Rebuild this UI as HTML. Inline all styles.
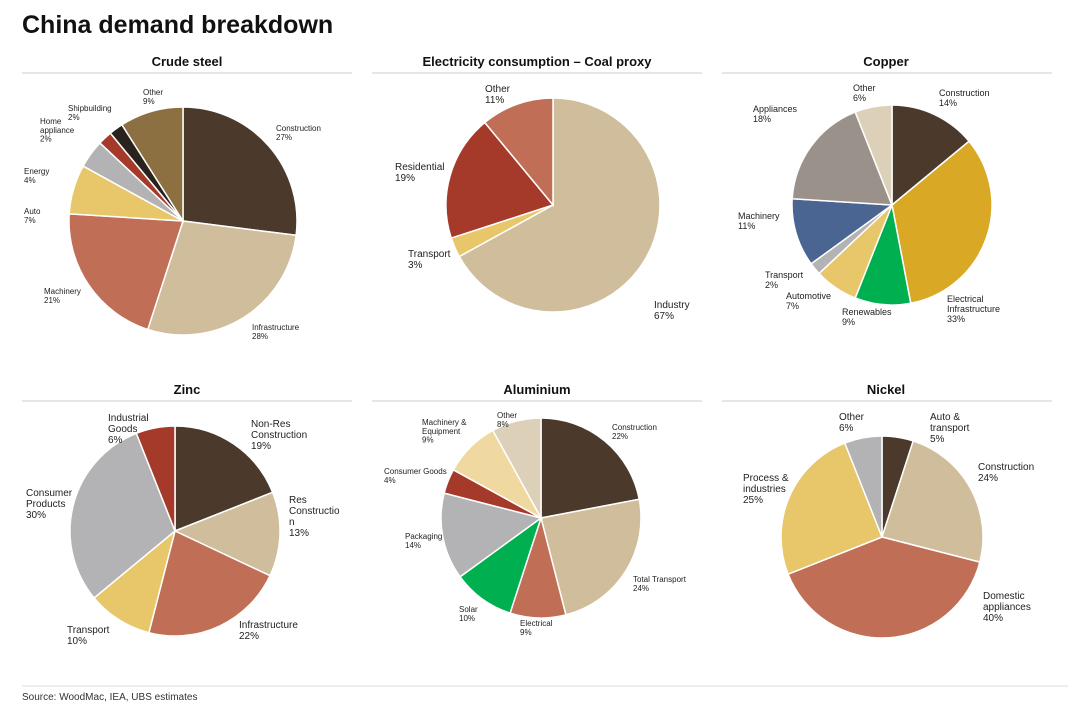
<!DOCTYPE html>
<html><head><meta charset="utf-8">
<style>
body{margin:0;background:#fff;width:1080px;height:711px;overflow:hidden;font-family:"Liberation Sans",sans-serif}
svg{display:block}
</style></head>
<body>
<svg id="chart" width="1080" height="711" viewBox="0 0 1080 711">
<text x="22" y="33" font-size="25" font-weight="bold" fill="#111">China demand breakdown</text>
<line x1="22" y1="686" x2="1068" y2="686" stroke="#ddd"/>
<text x="22" y="700" font-size="10" fill="#333">Source: WoodMac, IEA, UBS estimates</text>
</svg>
<script>
// Crude steel
const steelCats=["Construction","Infrastructure","Machinery","Auto","Energy","Home appliance","Shipbuilding","Other"];
const steelVals=[27,28,21,7,4,2,2,9];
// Electricity
const elecCats=["Industry","Transport","Residential","Other"];
const elecVals=[67,3,19,11];
// Copper
const copperCats=["Construction","Electrical Infrastructure","Renewables","Automotive","Transport","Machinery","Appliances","Other"];
const copperVals=[14,33,9,7,2,11,18,6];
// Zinc
const zincCats=["Non-Res Construction","Res Constructio n","Infrastructure","Transport","Consumer Products","Industrial Goods"];
const zincVals=[19,13,22,10,30,6];
// Aluminium
const aluCats=["Construction","Total Transport","Electrical","Solar","Packaging","Consumer Goods","Machinery & Equipment","Other"];
const aluVals=[22,24,9,10,14,4,9,8];
// Nickel
const nickelCats=["Auto & transport","Construction","Domestic appliances","Process & industries","Other"];
const nickelVals=[5,24,40,25,6];

const NS="http://www.w3.org/2000/svg";
const svg=document.getElementById('chart');
const C={dk:"#4b3a2c",tan:"#cfbd9b",terra:"#c06e55",yel:"#e8c66a",gry:"#b3b3b5",red:"#a63a2a",blk:"#2a221c",brn:"#8d7042",gold:"#d9a825",grn:"#00b050",blu:"#4a6591",gry2:"#9a918b",beige:"#ddd0b8",pale:"#f0d9a0"};

const pies=[
 {key:"crude-steel",title:"Crude steel",tx:187,ty:66,lx:22,cx:183,cy:221,r:114,cats:steelCats,vals:steelVals,fs:8,
  colors:[C.dk,C.tan,C.terra,C.yel,C.gry,C.red,C.blk,C.brn],
  labels:[[276,131,"start"],[252,330,"start"],[44,294,"start"],[24,214,"start"],[24,174,"start"],[40,124,"start"],[68,111,"start"],[143,95,"start"]]},
 {key:"electricity",title:"Electricity consumption \u2013 Coal proxy",tx:537,ty:66,lx:372,cx:553,cy:205,r:107,cats:elecCats,vals:elecVals,fs:10,
  colors:[C.tan,C.yel,C.red,C.terra],
  labels:[[654,308,"start"],[408,257,"start"],[395,170,"start"],[485,92,"start"]]},
 {key:"copper",title:"Copper",tx:886,ty:66,lx:722,cx:892,cy:205,r:100,cats:copperCats,vals:copperVals,fs:9,
  colors:[C.dk,C.gold,C.grn,C.yel,C.gry,C.blu,C.gry2,C.beige],
  labels:[[939,96,"start"],[947,302,"start"],[842,315,"start"],[786,299,"start"],[765,278,"start"],[738,219,"start"],[753,112,"start"],[853,91,"start"]]},
 {key:"zinc",title:"Zinc",tx:187,ty:394,lx:22,cx:175,cy:531,r:105,cats:zincCats,vals:zincVals,fs:10,
  colors:[C.dk,C.tan,C.terra,C.yel,C.gry,C.red],
  labels:[[251,427,"start"],[289,503,"start"],[239,628,"start"],[67,633,"start"],[26,496,"start"],[108,421,"start"]]},
 {key:"aluminium",title:"Aluminium",tx:537,ty:394,lx:372,cx:541,cy:518,r:100,cats:aluCats,vals:aluVals,fs:8,
  colors:[C.dk,C.tan,C.terra,C.grn,C.gry,C.red,C.pale,C.beige],
  labels:[[612,430,"start"],[633,582,"start"],[520,626,"start"],[459,612,"start"],[405,539,"start"],[384,474,"start"],[422,425,"start"],[497,418,"start"]]},
 {key:"nickel",title:"Nickel",tx:886,ty:394,lx:722,cx:882,cy:537,r:101,cats:nickelCats,vals:nickelVals,fs:10,
  colors:[C.dk,C.tan,C.terra,C.yel,C.gry],
  labels:[[930,420,"start"],[978,470,"start"],[983,599,"start"],[743,481,"start"],[839,420,"start"]]}
];

function mk(tag,attrs){const e=document.createElementNS(NS,tag);for(const k in attrs)e.setAttribute(k,attrs[k]);return e;}
function pt(cx,cy,r,a){return [cx+r*Math.sin(a),cy-r*Math.cos(a)];}

pies.forEach(p=>{
  const g=mk('g',{});
  
  
  svg.appendChild(g);
  const t=mk('text',{x:p.tx,y:p.ty,'font-size':13,'font-weight':'bold','text-anchor':'middle',fill:'#111'});
  
  
  t.textContent=p.title;g.appendChild(t);
  const ln=mk('line',{x1:p.lx,y1:p.ty+7,x2:p.lx+330,y2:p.ty+7,stroke:'#ccc'});
  
  
  g.appendChild(ln);
  const total=p.vals.reduce((a,b)=>a+b,0);
  let a0=0;
  p.vals.forEach((v,i)=>{
    const a1=a0+v/total*2*Math.PI;
    const [x0,y0]=pt(p.cx,p.cy,p.r,a0),[x1,y1]=pt(p.cx,p.cy,p.r,a1);
    const large=(a1-a0)>Math.PI?1:0;
    const path=mk('path',{d:`M${p.cx},${p.cy}L${x0},${y0}A${p.r},${p.r} 0 ${large} 1 ${x1},${y1}Z`,fill:p.colors[i],stroke:'#fff','stroke-width':1.5});
    
    
    g.appendChild(path);
    a0=a1;
  });
  p.cats.forEach((c,i)=>{
    const [lx,ly,anc]=p.labels[i];
    const words=c.split(' ');
    let lines=[c];
    if(c.length>14&&words.length>1){const h=Math.ceil(words.length/2);lines=[words.slice(0,h).join(' '),words.slice(h).join(' ')];}
    if(c==="Home appliance")lines=["Home","appliance"];
    if(c==="Res Constructio n")lines=["Res","Constructio","n"];
    if(c==="Electrical Infrastructure")lines=["Electrical","Infrastructure"];
    if(c==="Total Transport")lines=["Total Transport"];
    lines.push(p.vals[i]+'%');
    const tx=mk('text',{x:lx,y:ly,'font-size':p.fs,fill:'#222','text-anchor':anc});
    
    
    lines.forEach((s,j)=>{const ts=mk('tspan',{x:lx,dy:j?p.fs*1.1:0});ts.textContent=s;tx.appendChild(ts);});
    g.appendChild(tx);
  });
});
</script>
</body></html>
